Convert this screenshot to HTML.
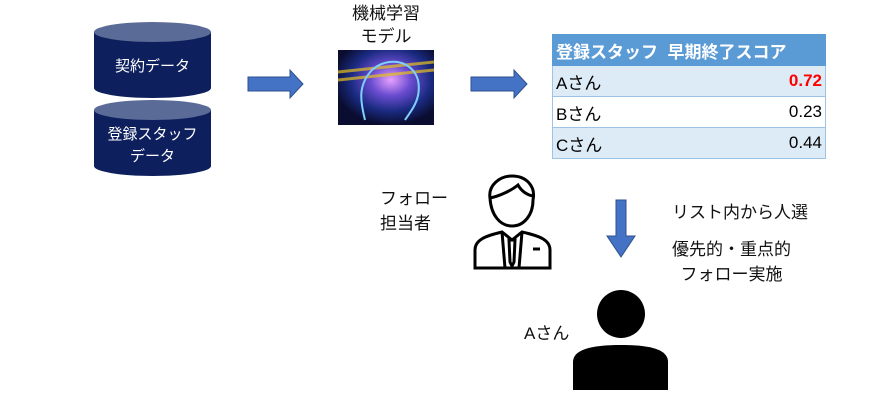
<!DOCTYPE html>
<html><head><meta charset="utf-8"><style>
body{margin:0;width:878px;height:405px;background:#fff;position:relative;overflow:hidden;font-family:"Liberation Sans","Noto Sans CJK JP",sans-serif;}
.t{position:absolute;font-size:17px;color:#111;white-space:nowrap;line-height:20px}
table{position:absolute;left:552px;top:34px;width:274px;border-collapse:collapse;font-size:17px}
td{height:29px;padding:0 3px;border-top:1px solid #9dc3e6;border-bottom:1px solid #9dc3e6}
td:first-child{border-left:1px solid #9dc3e6}
td:last-child{border-right:1px solid #9dc3e6}
</style></head><body>
<svg width="878" height="405" style="position:absolute;left:0;top:0">
<defs>
<radialGradient id="g" cx="0.55" cy="0.4" r="0.6"><stop offset="0" stop-color="#e8a0ff"/><stop offset="0.35" stop-color="#6a4cd0"/><stop offset="0.7" stop-color="#1a2a80"/><stop offset="1" stop-color="#0a0d30"/></radialGradient>
</defs>
<path d="M94 32 V88 A58.5 10 0 0 0 211 88 V32 Z" fill="#0d1f5c"/>
<ellipse cx="152.5" cy="32" rx="58.5" ry="10" fill="#5b6b97"/>
<path d="M94 110 V166 A58.5 10 0 0 0 211 166 V110 Z" fill="#0d1f5c"/>
<ellipse cx="152.5" cy="110" rx="58.5" ry="10" fill="#5b6b97"/>
<polygon points="248,77 290,77 290,70 303,84 290,98 290,91 248,91" fill="#4472c4" stroke="#2f528f"/>
<polygon points="471,77 514,77 514,70 527,84 514,98 514,91 471,91" fill="#4472c4" stroke="#2f528f"/>
<polygon points="616,200 626,200 626,236 635,236 621,257 607,236 616,236" fill="#4472c4" stroke="#2f528f"/>
<rect x="338" y="50" width="96" height="75" fill="url(#g)"/>
<path d="M338 72 L434 62 M338 80 L434 70" stroke="#e6c020" stroke-width="3" opacity="0.7"/>
<path d="M365 120 C360 100 358 85 372 70 C388 56 412 60 418 80 C422 100 410 112 405 120" fill="none" stroke="#7fd0ff" stroke-width="2"/>
<g fill="none" stroke="#000" stroke-width="3">
<path d="M490 198 C488 185 500 176 512 176 C526 176 536 186 533 200 C533 215 524 226 512 226 C500 226 491 215 490 198 Z"/>
<path d="M490 198 C500 196 512 190 518 185 C522 192 528 195 533 196"/>
<path d="M475 268 V250 C475 240 485 236 502 232 L512 240 L522 232 C540 236 550 240 550 250 V268 Z"/>
<path d="M502 232 L505 268 M522 232 L519 268 M509 240 L515 240 L514 262 L512 266 L510 262 Z"/>
<path d="M533 249 H540"/>
</g>
<circle cx="621" cy="314" r="24" fill="#000"/>
<path d="M573 390 V362 C573 350 590 345 621 345 C652 345 668 350 668 362 V390 Z" fill="#000"/>
</svg>
<div class="t" style="left:94px;top:57px;width:117px;text-align:center;color:#fff;font-size:15px">契約データ</div>
<div class="t" style="left:94px;top:124px;width:117px;text-align:center;color:#fff;font-size:15px;line-height:22px">登録スタッフ<br>データ</div>
<div class="t" style="left:336px;top:2px;width:100px;text-align:center;line-height:23px">機械学習<br>モデル</div>
<table>
<tr style="background:#5b9bd5;color:#fff;font-weight:bold"><td colspan="2" style="border-color:#5b9bd5;height:30px">登録スタッフ&nbsp;&nbsp;早期終了スコア</td></tr>
<tr style="background:#ddebf7"><td style="height:30px">Aさん</td><td style="text-align:right;color:#f00;font-weight:bold">0.72</td></tr>
<tr><td style="height:30px">Bさん</td><td style="text-align:right">0.23</td></tr>
<tr style="background:#ddebf7"><td style="height:30px">Cさん</td><td style="text-align:right">0.44</td></tr>
</table>
<div class="t" style="left:380px;top:186px;line-height:25px">フォロー<br>担当者</div>
<div class="t" style="left:672px;top:203px">リスト内から人選</div>
<div class="t" style="left:672px;top:237px;line-height:25px;text-align:center">優先的・重点的<br>フォロー実施</div>
<div class="t" style="left:524px;top:324px">Aさん</div>
</body></html>
